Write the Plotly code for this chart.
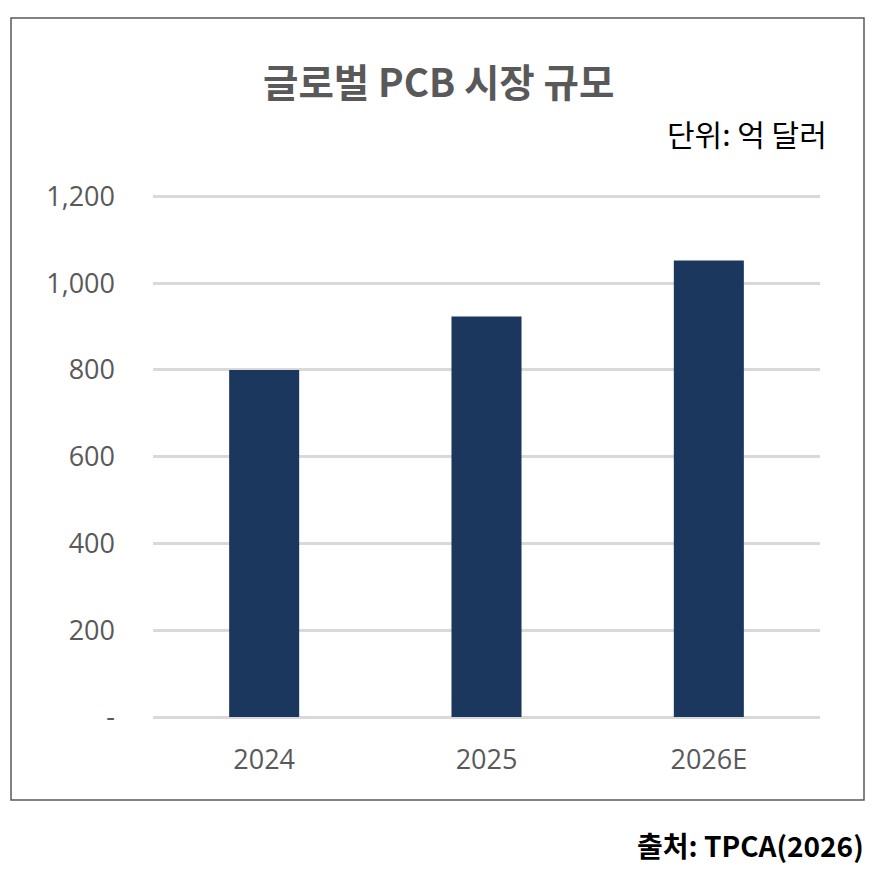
import plotly.graph_objects as go

categories = ["2024", "2025", "2026E"]
values = [800, 923, 1052]
tick_values = [0, 200, 400, 600, 800, 1000, 1200]
tick_labels = ["-", "200", "400", "600", "800", "1,000", "1,200"]

title_text = "<b>글로벌 PCB 시장 규모</b>"
unit_text = "단위: 억 달러"
source_text = "<b>출처: TPCA(2026)</b>"

# page body has an 8px margin, so figure coords = reference coords - 8
W, H = 866, 860
L, R, B = 145, 812, 709
YMAX = 1210
T = round(B - 521 * YMAX / 1200)
pw, ph = R - L, B - T

def px(x):
    return (x - L) / pw

def py(y):
    return (B - y) / ph

fig = go.Figure(go.Bar(
    x=categories, y=values,
    marker=dict(color="#1b375e", line=dict(width=0)),
    width=0.315,
    hoverinfo="x+y",
))

fig.update_layout(
    width=W, height=H, autosize=False,
    margin=dict(l=L, r=W - R, t=T, b=H - B, pad=0),
    paper_bgcolor="white", plot_bgcolor="white",
    showlegend=False,
    font=dict(family="Open Sans, Noto Sans CJK KR, sans-serif", color="#595959"),
    xaxis=dict(
        showgrid=False, showline=False, zeroline=False,
        ticks="", tickfont=dict(size=27, color="#595959", family="Open Sans, sans-serif"),
        ticklabelstandoff=24,
    ),
    yaxis=dict(
        range=[0, YMAX], tickvals=tick_values, ticktext=tick_labels,
        showgrid=True, gridcolor="#d9d9d9", gridwidth=2.5,
        zeroline=True, zerolinecolor="#d9d9d9", zerolinewidth=2.5,
        showline=False, ticks="",
        tickfont=dict(size=27, color="#595959", family="Open Sans, sans-serif"),
        ticklabelstandoff=37,
    ),
    shapes=[dict(
        type="rect", xref="paper", yref="paper",
        x0=px(3), x1=px(856), y0=py(792), y1=py(10),
        line=dict(color="#595959", width=1.5), layer="below",
    )],
    annotations=[
        dict(text=title_text, xref="paper", yref="paper", x=px(430), y=py(72),
             xanchor="center", yanchor="middle", showarrow=False,
             font=dict(size=38.5, color="#595959", family="Noto Sans CJK KR, sans-serif")),
        dict(text=unit_text, xref="paper", yref="paper", x=px(821), y=py(125),
             xanchor="right", yanchor="middle", showarrow=False,
             font=dict(size=30, color="#000000", family="Noto Sans CJK KR, sans-serif")),
        dict(text=source_text, xref="paper", yref="paper", x=px(858), y=py(837),
             xanchor="right", yanchor="middle", showarrow=False,
             font=dict(size=28, color="#000000", family="Noto Sans CJK KR, sans-serif")),
    ],
)

fig.write_html("out.html")
